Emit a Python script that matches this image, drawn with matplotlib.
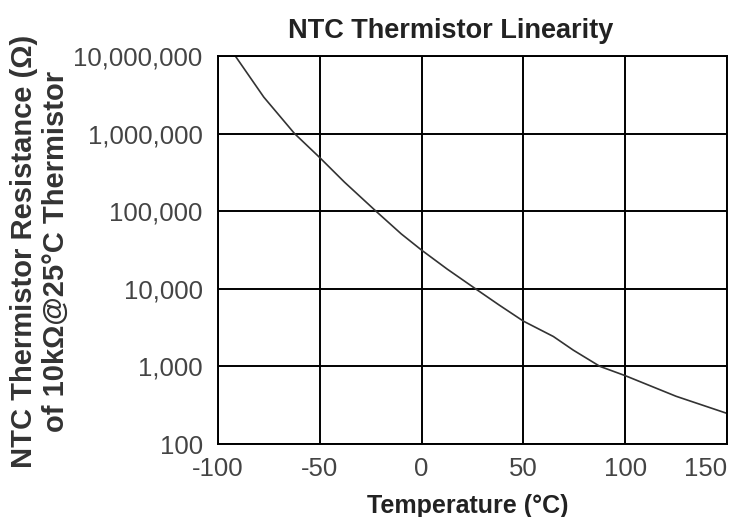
import numpy as np
import matplotlib.pyplot as plt
from matplotlib.ticker import FixedLocator

# values
temp_c = [-91.5, -77.5, -62.4, -50, -37.9, -22.4, -10, 0, 12.5, 26.5,
          38, 50, 64.7, 74.5, 87.6, 100, 125, 150]
resistance = [1.0e7, 2.95e6, 1.0e6, 4.9e5, 2.37e5, 1.0e5, 5.1e4, 3.15e4, 1.8e4, 1.0e4,
              6.2e3, 3.83e3, 2.43e3, 1.62e3, 1.0e3, 760, 412, 248]

x_ticks = [-100, -50, 0, 50, 100, 150]
y_ticks = [100, 1000, 10000, 100000, 1000000, 10000000]
y_tick_labels = ['100', '1,000', '10,000', '100,000', '1,000,000', '10,000,000']

plt.rcParams['font.family'] = ['Liberation Sans', 'DejaVu Sans']

fig = plt.figure(figsize=(7.3, 5.17), dpi=100)
ax = fig.add_axes([218 / 730, 1 - 444 / 517, 509 / 730, 388 / 517])

ax.plot(temp_c, resistance, color='#333333', linewidth=1.2)

ax.set_yscale('log')
ax.set_xlim(-100, 150)
ax.set_ylim(100, 1e7)
ax.xaxis.set_major_locator(FixedLocator(x_ticks))
ax.yaxis.set_major_locator(FixedLocator(y_ticks))
ax.yaxis.set_minor_locator(FixedLocator([]))
ax.set_xticklabels([str(t) for t in x_ticks])
ax.set_yticklabels(y_tick_labels)
ax.get_xticklabels()[-1].set_ha('right')
ax.get_xticklabels()[-1].set_position((1.0, 0))

ax.tick_params(axis='both', length=0, labelsize=18.5, colors='#444444')
ax.tick_params(axis='x', pad=9)
ax.tick_params(axis='y', pad=11)
ax.grid(True, color='black', linewidth=1.4)
for s in ax.spines.values():
    s.set_color('black')
    s.set_linewidth(1.4)

fig.text(451 / 730, 1 - 31 / 517, 'NTC Thermistor Linearity', ha='center', va='center',
         fontsize=19.5, fontweight='bold', color='#222222')
fig.text(468 / 730, 1 - 506 / 517, 'Temperature (°C)', ha='center', va='center',
         fontsize=18, fontweight='bold', color='#222222')
fig.text(40 / 730, 1 - 251 / 517, 'NTC Thermistor Resistance (Ω)\nof 10kΩ@25°C Thermistor',
         ha='center', va='center', rotation=90, multialignment='center',
         fontsize=21, fontweight='bold', color='#333333', linespacing=1.15)

fig.savefig('out.png', dpi=100)
